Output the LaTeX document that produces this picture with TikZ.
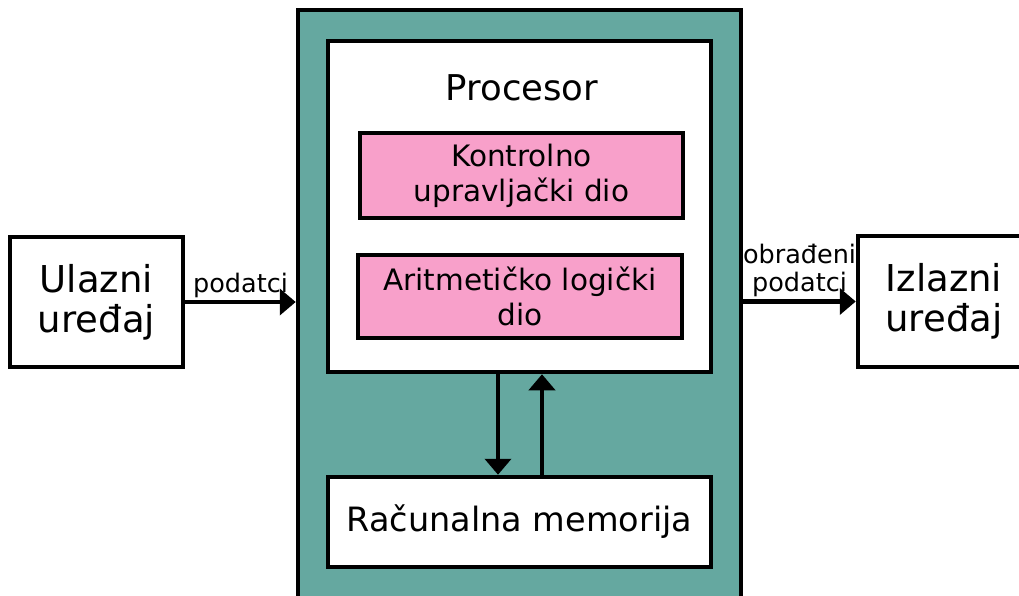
\documentclass[tikz,border=0pt]{standalone}
\usepackage{fontspec}
\setmainfont{DejaVu Sans}
\usetikzlibrary{arrows.meta}
\definecolor{tealbg}{RGB}{101,168,160}
\definecolor{pinkbg}{RGB}{248,160,202}
\tikzset{
  box/.style={draw=black, line width=4.5pt, fill=white, inner sep=0pt, align=center},
  pinkbox/.style={box, fill=pinkbg},
  arr/.style={line width=4.5pt, -{Triangle[length=16pt,width=26pt]}},
  lbl/.style={font=\fontsize{25.5}{28}\selectfont, align=center, inner sep=2pt},
}
\begin{document}
\begin{tikzpicture}[x=1pt,y=-1pt]
\useasboundingbox (0,0) rectangle (1019,596);
\clip (0,0) rectangle (1019,596);
\node[box, fill=tealbg, minimum width=443pt, minimum height=600pt] (outer) at (519.5,310) {};
\node[box, minimum width=383pt, minimum height=331pt] (proc) at (519.5,206.5) {};
\node[inner sep=0pt, font=\fontsize{35.5}{40}\selectfont] (proclbl) at (522,88) {Procesor};
\node[pinkbox, minimum width=323pt, minimum height=85pt, font=\fontsize{29.5}{35}\selectfont] (ctrl) at (521.5,175.5) {Kontrolno\\upravljački dio};
\node[pinkbox, minimum width=324pt, minimum height=83pt, font=\fontsize{29.5}{35}\selectfont] (alu) at (520,296.5) {Aritmetičko logički\\dio};
\node[box, minimum width=383pt, minimum height=90pt, font=\fontsize{33.5}{38}\selectfont] (mem) at (519.5,522) {Računalna memorija};
\node[box, minimum width=173pt, minimum height=130pt, font=\fontsize{37}{40}\selectfont] (in) at (96.5,302) {Ulazni\\uređaj};
\node[box, minimum width=172pt, minimum height=131pt, font=\fontsize{37}{40}\selectfont] (out) at (944,301.5) {Izlazni\\uređaj};
\draw[arr] (in.east) -- node[lbl, above] {podatci} (outer.west |- in.east);
\draw[arr] (outer.east |- out.west) -- node[lbl, above] {obrađeni\\podatci} (out.west);
\draw[arr] ([xshift=-21.5pt]proc.south) -- ([xshift=-21.5pt]mem.north);
\draw[arr] ([xshift=22.5pt]mem.north) -- ([xshift=22.5pt]proc.south);
\end{tikzpicture}
\end{document}
